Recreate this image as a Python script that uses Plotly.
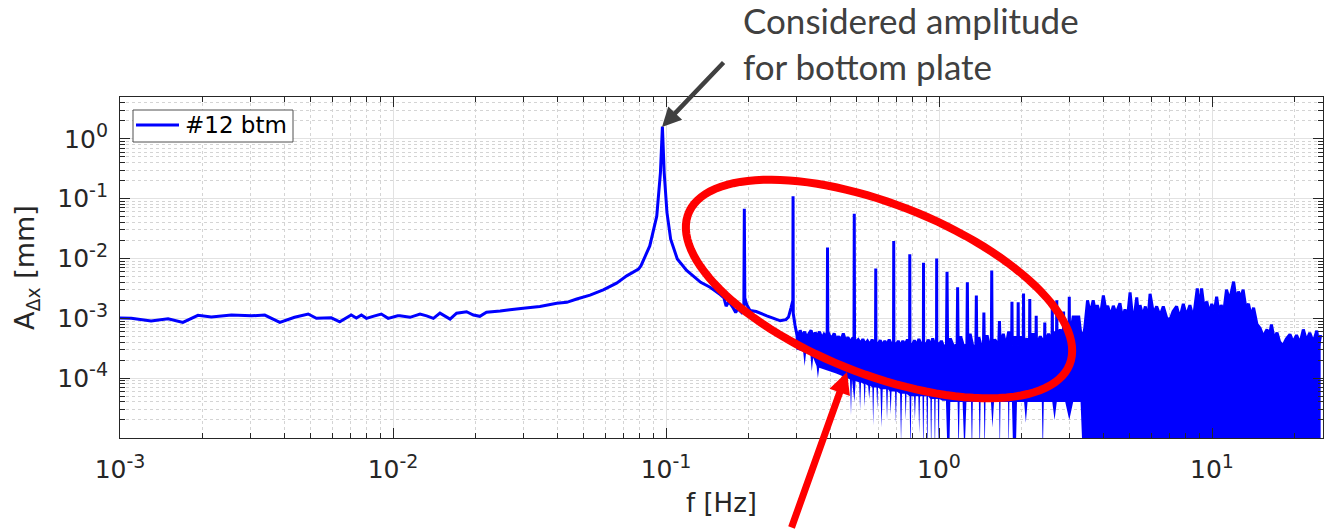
import numpy as np
import plotly.graph_objects as go

# ---------------- data ----------------
# smooth low-frequency part, main resonance and first two harmonics
f_low = [0.00100, 0.00110, 0.00130, 0.00150, 0.00170, 0.00193, 0.00216, 0.00256,
         0.00303, 0.00339, 0.00385, 0.00436, 0.00489, 0.00524, 0.00594, 0.00638,
         0.00703, 0.00734, 0.00766, 0.00799, 0.00857, 0.00906, 0.00960, 0.01040,
         0.01060, 0.01154, 0.01256, 0.01328, 0.01406, 0.01486, 0.01618, 0.01710,
         0.01860, 0.01970, 0.02080, 0.02200, 0.02470, 0.02680, 0.03000, 0.03450,
         0.03980, 0.04330, 0.04710, 0.05270, 0.05890, 0.06590, 0.07180, 0.07930,
         0.08100, 0.08720, 0.09250, 0.09540, 0.09700, 0.09850, 0.10080, 0.10400,
         0.11000, 0.11900, 0.13400, 0.14500, 0.15800, 0.16300, 0.16600, 0.17000,
         0.17600, 0.18000, 0.18300, 0.18900, 0.19280, 0.19360, 0.19440, 0.19750,
         0.20300, 0.21400, 0.23400, 0.24800, 0.26200, 0.27500, 0.28100, 0.28700,
         0.29150, 0.29200, 0.29250, 0.29700]
a_low = [1.01e-3, 1.00e-3, 9.0e-4, 9.84e-4, 8.57e-4, 1.12e-3, 1.05e-3, 1.135e-3,
         1.10e-3, 1.135e-3, 8.57e-4, 1.04e-3, 1.18e-3, 1.00e-3, 1.02e-3, 8.77e-4,
         1.135e-3, 1.01e-3, 1.135e-3, 1.00e-3, 1.10e-3, 1.18e-3, 1.00e-3, 1.10e-3,
         1.10e-3, 1.04e-3, 1.18e-3, 1.10e-3, 1.00e-3, 1.22e-3, 9.7e-4, 1.22e-3,
         1.29e-3, 1.135e-3, 1.08e-3, 1.26e-3, 1.32e-3, 1.39e-3, 1.47e-3, 1.58e-3,
         1.78e-3, 1.85e-3, 2.10e-3, 2.44e-3, 3.00e-3, 3.87e-3, 5.13e-3, 6.64e-3,
         7.6e-3, 0.0162, 0.051, 0.27, 1.60, 0.27, 0.059, 0.021,
         9.8e-3, 6.3e-3, 4.0e-3, 3.3e-3, 2.5e-3, 2.2e-3, 1.6e-3, 1.9e-3,
         1.5e-3, 1.25e-3, 1.45e-3, 1.26e-3, 1.6e-3, 0.068, 2.2e-3, 1.7e-3,
         1.35e-3, 1.3e-3, 1.1e-3, 1.0e-3, 9.1e-4, 9.5e-4, 1.05e-3, 1.5e-3,
         2.0e-3, 0.110, 1.2e-3, 7.6e-4]

# upper edge of the dense noise band (with the harmonic peaks)
f_top = [0.300, 0.305, 0.310, 0.316, 0.322, 0.328, 0.334, 0.340, 0.346, 0.352,
         0.358, 0.365, 0.372, 0.379, 0.386, 0.3895, 0.3905, 0.3915, 0.397, 0.405,
         0.413, 0.421, 0.429, 0.437, 0.446, 0.455, 0.464, 0.473, 0.482, 0.4882,
         0.4893, 0.4904, 0.496, 0.506, 0.516, 0.526, 0.536, 0.547, 0.558, 0.569,
         0.578, 0.5855, 0.5865, 0.5875, 0.597, 0.609, 0.621, 0.633, 0.645, 0.657,
         0.670, 0.6815, 0.6825, 0.6835, 0.695, 0.709, 0.723, 0.737, 0.751, 0.766,
         0.7805, 0.7815, 0.7825, 0.796, 0.812, 0.828, 0.844, 0.861, 0.8765, 0.8775,
         0.8785, 0.895, 0.912, 0.930, 0.948, 0.966, 0.9795, 0.9805, 0.9815, 1.000,
         1.02, 1.04, 1.065, 1.070, 1.075, 1.10, 1.13, 1.165, 1.170, 1.175,
         1.20, 1.23, 1.265, 1.270, 1.275, 1.30, 1.33, 1.365, 1.370, 1.375,
         1.40, 1.43, 1.455, 1.460, 1.465, 1.50, 1.53, 1.555, 1.560, 1.565,
         1.60, 1.655, 1.665, 1.675, 1.72, 1.76, 1.80, 1.845, 1.850, 1.855,
         1.90, 1.945, 1.950, 1.955, 1.99, 2.035, 2.040, 2.045, 2.10, 2.145,
         2.150, 2.155, 2.21, 2.265, 2.270, 2.275, 2.35, 2.435, 2.440, 2.445,
         2.52, 2.595, 2.600, 2.605, 2.65, 2.695, 2.700, 2.705, 2.78, 2.855,
         2.860, 2.865, 2.93, 2.995, 3.000, 3.005, 3.05, 3.10, 3.25, 3.30,
         3.38, 3.42, 3.50, 3.58, 3.67, 3.74, 3.80, 3.90, 4.00, 4.08,
         4.15, 4.25, 4.35, 4.45, 4.60, 4.70, 4.80, 4.90, 5.01, 5.10,
         5.15, 5.22, 5.30, 5.38, 5.45, 5.58, 5.70, 5.82, 5.93, 6.10,
         6.27, 6.45, 6.63, 6.83, 7.02, 7.20, 7.42, 7.62, 7.85, 8.05,
         8.30, 8.55, 8.83, 9.00, 9.16, 9.35, 9.57, 9.77, 9.98, 10.2,
         10.4, 10.6, 10.8, 11.05, 11.3, 11.6, 12.0, 12.25, 12.5, 12.75,
         13.0, 13.3, 13.6, 13.9, 14.2, 14.6, 15.0, 15.4, 15.9, 16.2,
         16.5, 16.9, 17.3, 17.7, 18.2, 18.7, 19.3, 19.8, 20.4, 21.0,
         21.6, 22.2, 22.8, 23.5, 24.2, 24.6, 25.0]
a_top = [6.0e-4, 4.8e-4, 6.3e-4, 5.0e-4, 6.0e-4, 4.6e-4, 5.6e-4, 6.3e-4, 4.8e-4, 5.8e-4,
         5.0e-4, 6.0e-4, 4.6e-4, 5.4e-4, 4.8e-4, 6.0e-4, 0.0152, 6.0e-4, 5.2e-4, 4.6e-4,
         5.6e-4, 4.4e-4, 5.0e-4, 4.2e-4, 5.6e-4, 4.2e-4, 4.8e-4, 4.0e-4, 4.6e-4, 4.6e-4,
         0.056, 4.5e-4, 4.0e-4, 4.4e-4, 3.8e-4, 4.5e-4, 3.7e-4, 4.2e-4, 3.6e-4, 4.4e-4,
         3.8e-4, 4.0e-4, 6.8e-3, 4.0e-4, 3.6e-4, 4.3e-4, 3.5e-4, 4.2e-4, 3.6e-4, 4.4e-4,
         3.6e-4, 4.0e-4, 0.0196, 4.0e-4, 3.5e-4, 4.2e-4, 3.4e-4, 4.2e-4, 3.6e-4, 4.4e-4,
         3.8e-4, 0.0118, 3.8e-4, 3.4e-4, 4.3e-4, 3.5e-4, 4.5e-4, 3.6e-4, 4.0e-4, 8.5e-3,
         4.0e-4, 3.4e-4, 4.4e-4, 3.5e-4, 4.6e-4, 3.6e-4, 4.0e-4, 0.0100, 4.0e-4, 3.5e-4,
         4.2e-4, 3.3e-4, 3.6e-4, 6.0e-3, 3.6e-4, 4.6e-4, 3.4e-4, 3.6e-4, 3.3e-3, 3.6e-4,
         5.0e-4, 3.4e-4, 3.6e-4, 4.0e-3, 3.6e-4, 5.5e-4, 3.4e-4, 3.5e-4, 2.4e-3, 3.5e-4,
         4.8e-4, 3.3e-4, 3.5e-4, 1.25e-3, 3.5e-4, 5.2e-4, 3.4e-4, 3.5e-4, 6.3e-3, 3.5e-4,
         4.4e-4, 3.5e-4, 9.0e-4, 3.4e-4, 5.5e-4, 3.4e-4, 6.0e-4, 3.5e-4, 1.9e-3, 3.5e-4,
         5.0e-4, 3.5e-4, 1.85e-3, 3.5e-4, 5.0e-4, 3.6e-4, 2.6e-3, 3.6e-4, 4.6e-4, 3.6e-4,
         2.1e-3, 3.6e-4, 5.6e-4, 3.6e-4, 1.1e-3, 3.6e-4, 5.0e-4, 3.7e-4, 8.5e-4, 3.7e-4,
         5.5e-4, 4.0e-4, 2.0e-3, 4.0e-4, 6.0e-4, 4.5e-4, 2.0e-3, 4.5e-4, 6.5e-4, 5.0e-4,
         1.3e-3, 5.0e-4, 8.0e-4, 6.0e-4, 2.3e-3, 7.0e-4, 6.5e-4, 1.05e-3, 1.05e-3, 6.0e-4,
         4.9e-4, 7.0e-4, 2.0e-3, 1.2e-3, 2.0e-3, 1.3e-3, 1.66e-3, 1.1e-3, 2.4e-3, 1.4e-3,
         1.62e-3, 1.1e-3, 1.62e-3, 1.2e-3, 1.78e-3, 1.0e-3, 1.41e-3, 1.0e-3, 2.7e-3, 1.2e-3,
         4.5e-4, 1.3e-3, 2.24e-3, 1.1e-3, 1.66e-3, 1.1e-3, 1.58e-3, 9.0e-4, 2.57e-3, 1.2e-3,
         1.58e-3, 1.1e-3, 1.58e-3, 1.0e-3, 9.5e-4, 1.3e-3, 1.58e-3, 1.0e-3, 1.74e-3, 1.1e-3,
         1.66e-3, 1.0e-3, 3.16e-3, 1.4e-3, 3.16e-3, 1.5e-3, 1.9e-3, 1.2e-3, 1.74e-3, 1.3e-3,
         2.3e-3, 1.2e-3, 1.66e-3, 1.3e-3, 3.0e-3, 2.0e-3, 4.1e-3, 2.0e-3, 2.8e-3, 2.2e-3,
         3.0e-3, 1.5e-3, 1.74e-3, 1.1e-3, 1.5e-3, 8.0e-4, 6.8e-4, 5.0e-4, 6.5e-4, 4.8e-4,
         7.9e-4, 4.5e-4, 5.75e-4, 4.0e-4, 3.5e-4, 4.5e-4, 5.4e-4, 4.0e-4, 5.25e-4, 3.8e-4,
         6.5e-4, 4.2e-4, 5.75e-4, 4.0e-4, 6.2e-4, 3.5e-4, 5.25e-4]

# lower edge of the dense noise band (solid floor with thin downward lines)
f_bot = [0.297, 0.300, 0.318, 0.322, 0.326, 0.338, 0.342, 0.346, 0.356, 0.360,
         0.364, 0.380, 0.400, 0.420, 0.440, 0.455, 0.459, 0.463, 0.472, 0.476,
         0.480, 0.490, 0.495, 0.510, 0.514, 0.518, 0.530, 0.534, 0.538, 0.550,
         0.555, 0.560, 0.570, 0.574, 0.578, 0.590, 0.594, 0.598, 0.610, 0.616,
         0.622, 0.640, 0.645, 0.650, 0.660, 0.665, 0.670, 0.690, 0.695, 0.700,
         0.720, 0.726, 0.732, 0.750, 0.755, 0.760, 0.780, 0.786, 0.792, 0.810,
         0.816, 0.822, 0.840, 0.846, 0.852, 0.870, 0.876, 0.882, 0.900, 0.906,
         0.912, 0.930, 0.936, 0.942, 0.960, 0.966, 0.972, 0.990, 0.996, 1.002,
         1.03, 1.06, 1.075, 1.09, 1.10, 1.17, 1.18, 1.19, 1.22, 1.24,
         1.26, 1.31, 1.32, 1.33, 1.40, 1.41, 1.42, 1.46, 1.47, 1.48,
         1.55, 1.57, 1.59, 1.66, 1.67, 1.68, 1.79, 1.80, 1.81, 1.85,
         1.87, 1.91, 1.93, 2.05, 2.08, 2.11, 2.38, 2.40, 2.42, 2.60,
         2.65, 2.70, 2.90, 3.00, 3.10, 3.30, 3.36, 3.40, 25.0]
a_bot = [7.0e-4, 3.0e-4, 2.8e-4, 1.6e-4, 2.7e-4, 2.5e-4, 1.3e-4, 2.2e-4, 1.6e-4, 1.0e-4,
         1.5e-4, 1.4e-4, 1.3e-4, 1.2e-4, 1.1e-4, 1.0e-4, 5.5e-5, 1.0e-4, 9.5e-5, 2.4e-5,
         9.5e-5, 4.0e-5, 9.0e-5, 8.5e-5, 3.0e-5, 8.5e-5, 8.0e-5, 3.3e-5, 8.0e-5, 7.5e-5,
         4.5e-5, 7.5e-5, 7.0e-5, 1.6e-5, 7.0e-5, 7.0e-5, 3.0e-5, 7.0e-5, 6.5e-5, 1.5e-5,
         6.5e-5, 6.5e-5, 2.0e-5, 6.5e-5, 6.0e-5, 2.5e-5, 6.0e-5, 6.0e-5, 1.8e-5, 6.0e-5,
         5.5e-5, 8.0e-6, 5.5e-5, 5.5e-5, 2.0e-5, 5.5e-5, 5.0e-5, 5.0e-6, 5.0e-5, 5.0e-5,
         2.0e-5, 5.0e-5, 5.0e-5, 1.2e-5, 5.0e-5, 5.0e-5, 5.0e-6, 5.0e-5, 5.0e-5, 5.0e-6,
         5.0e-5, 4.5e-5, 5.0e-6, 4.5e-5, 4.5e-5, 5.0e-6, 4.5e-5, 4.5e-5, 5.0e-6, 4.5e-5,
         4.2e-5, 4.2e-5, 5.0e-6, 5.0e-6, 4.0e-5, 4.0e-5, 5.0e-6, 4.0e-5, 4.0e-5, 5.0e-6,
         4.0e-5, 4.0e-5, 5.0e-6, 4.0e-5, 4.0e-5, 5.0e-6, 4.0e-5, 4.0e-5, 5.0e-6, 4.0e-5,
         4.0e-5, 1.5e-5, 4.0e-5, 4.0e-5, 5.0e-6, 4.0e-5, 4.0e-5, 5.0e-6, 4.0e-5, 4.0e-5,
         5.0e-6, 5.0e-6, 4.0e-5, 4.0e-5, 1.8e-5, 4.0e-5, 4.0e-5, 5.0e-6, 4.0e-5, 4.0e-5,
         2.0e-5, 4.0e-5, 4.0e-5, 2.0e-5, 4.0e-5, 4.0e-5, 5.0e-6, 5.0e-6, 5.0e-6]

SUP = '<sup><span style="font-size:19px">{}</span></sup>'
x_ticks = [1e-3, 1e-2, 1e-1, 1e0, 1e1]
x_ticktext = ["10" + SUP.format(e) for e in ["-3", "-2", "-1", "0", "1"]]
y_ticks = [1e-4, 1e-3, 1e-2, 1e-1, 1e0]
y_ticktext = ["10" + SUP.format(e) for e in ["-4", "-3", "-2", "-1", "0"]]
series_name = "#12 btm"

# ---------------- figure ----------------
W, H = 1325, 529
ML, MR, MT, MB = 120, 2, 97, 91
PW, PH = W - ML - MR, H - MT - MB


def px2paper(px, py):
    return (px - ML) / PW, (H - MB - py) / PH


x_minor = [m * 10.0 ** e for e in range(-3, 2) for m in range(2, 10)]
y_minor = [m * 10.0 ** e for e in range(-5, 1) for m in range(2, 10)]

BLUE = "#0000ff"
fig = go.Figure()
fig.add_trace(go.Scatter(
    x=f_top + f_bot[::-1], y=a_top + a_bot[::-1], fill="toself",
    fillcolor=BLUE, line=dict(width=0, color=BLUE), mode="lines",
    showlegend=False, hoverinfo="skip"))
fig.add_trace(go.Scatter(
    x=f_low + f_top, y=a_low + a_top, mode="lines", name=series_name,
    line=dict(color=BLUE, width=3, simplify=False), showlegend=False))

FONT = "DejaVu Sans"
AX = "#262626"
axis_common = dict(
    type="log", showline=True, linecolor=AX, linewidth=1, mirror="allticks",
    ticks="inside", ticklen=10, tickcolor=AX, tickwidth=1,
    showgrid=True, gridcolor="#e2e2e2", gridwidth=1, zeroline=False,
    tickfont=dict(family=FONT, size=25, color=AX),
    tickmode="array",
)
fig.update_xaxes(
    **axis_common, range=[-3, np.log10(25.5)], tickvals=x_ticks, ticktext=x_ticktext,
    ticklabelstandoff=9,
    minor=dict(tickmode="array", tickvals=x_minor, ticks="inside", ticklen=5,
               tickcolor=AX, showgrid=True, gridcolor="#d4d4d4", griddash="dot"),
    title=dict(text="f [Hz]", font=dict(family=FONT, size=26, color=AX), standoff=10),
)
fig.update_yaxes(
    **axis_common, range=[-5, np.log10(5)], tickvals=y_ticks, ticktext=y_ticktext,
    ticklabelstandoff=6,
    minor=dict(tickmode="array", tickvals=y_minor, ticks="inside", ticklen=5,
               tickcolor=AX, showgrid=True, gridcolor="#d4d4d4", griddash="dot"),
    title=dict(text="A<sub>Δx</sub> [mm]", font=dict(family=FONT, size=27, color=AX), standoff=14),
)

# red ellipse
cx, cy, ea, eb, th = 879, 289, 205, 85, np.deg2rad(21.6)
t = np.linspace(0, 2 * np.pi, 120)
ex = cx + ea * np.cos(t) * np.cos(th) - eb * np.sin(t) * np.sin(th)
ey = cy + ea * np.cos(t) * np.sin(th) + eb * np.sin(t) * np.cos(th)
pts = [px2paper(a, b) for a, b in zip(ex, ey)]
path = "M " + " L ".join(f"{a:.5f},{b:.5f}" for a, b in pts) + " Z"
fig.add_shape(type="path", path=path, xref="paper", yref="paper",
              line=dict(color="#ff0000", width=8))

# legend box (drawn in the MATLAB style)
bx0, by0 = px2paper(133, 142)
bx1, by1 = px2paper(293, 110)
fig.add_shape(type="rect", xref="paper", yref="paper", x0=bx0, y0=by0, x1=bx1, y1=by1,
              fillcolor="white", line=dict(color="#505050", width=1))
lx0, ly0 = px2paper(136, 125)
lx1, _ = px2paper(179, 125)
fig.add_shape(type="line", xref="paper", yref="paper", x0=lx0, y0=ly0, x1=lx1, y1=ly0,
              line=dict(color=BLUE, width=3))

annotations = []
ltx, lty = px2paper(183, 125)
annotations.append(dict(
    text=series_name, xref="paper", yref="paper", x=ltx, y=lty, xanchor="left",
    yanchor="middle", showarrow=False, font=dict(family=FONT, size=23, color="black")))
tx, ty = px2paper(741, -3)
annotations.append(dict(
    text="Considered amplitude<br>for bottom plate", xref="paper", yref="paper",
    x=tx, y=ty, xanchor="left", yanchor="top", align="left", showarrow=False,
    font=dict(family="Lato", size=35, color="#404040")))
gx, gy = px2paper(662, 127)
annotations.append(dict(
    text="", xref="paper", yref="paper", x=gx, y=gy, ax=63, ay=-66,
    showarrow=True, arrowhead=2, arrowsize=0.85, arrowwidth=4.5,
    arrowcolor="#404040", standoff=0))
rx, ry = px2paper(847, 372)
annotations.append(dict(
    text="", xref="paper", yref="paper", x=rx, y=ry, ax=-56, ay=170,
    showarrow=True, arrowhead=2, arrowsize=0.62, arrowwidth=7,
    arrowcolor="#ff0000", standoff=0))

fig.update_layout(
    width=W, height=H, margin=dict(l=ML, r=MR, t=MT, b=MB, autoexpand=False),
    paper_bgcolor="white", plot_bgcolor="white", showlegend=False,
    annotations=annotations,
)

fig.write_html("out.html", config={"displayModeBar": False},
               post_script="document.body.style.margin='0px';")
